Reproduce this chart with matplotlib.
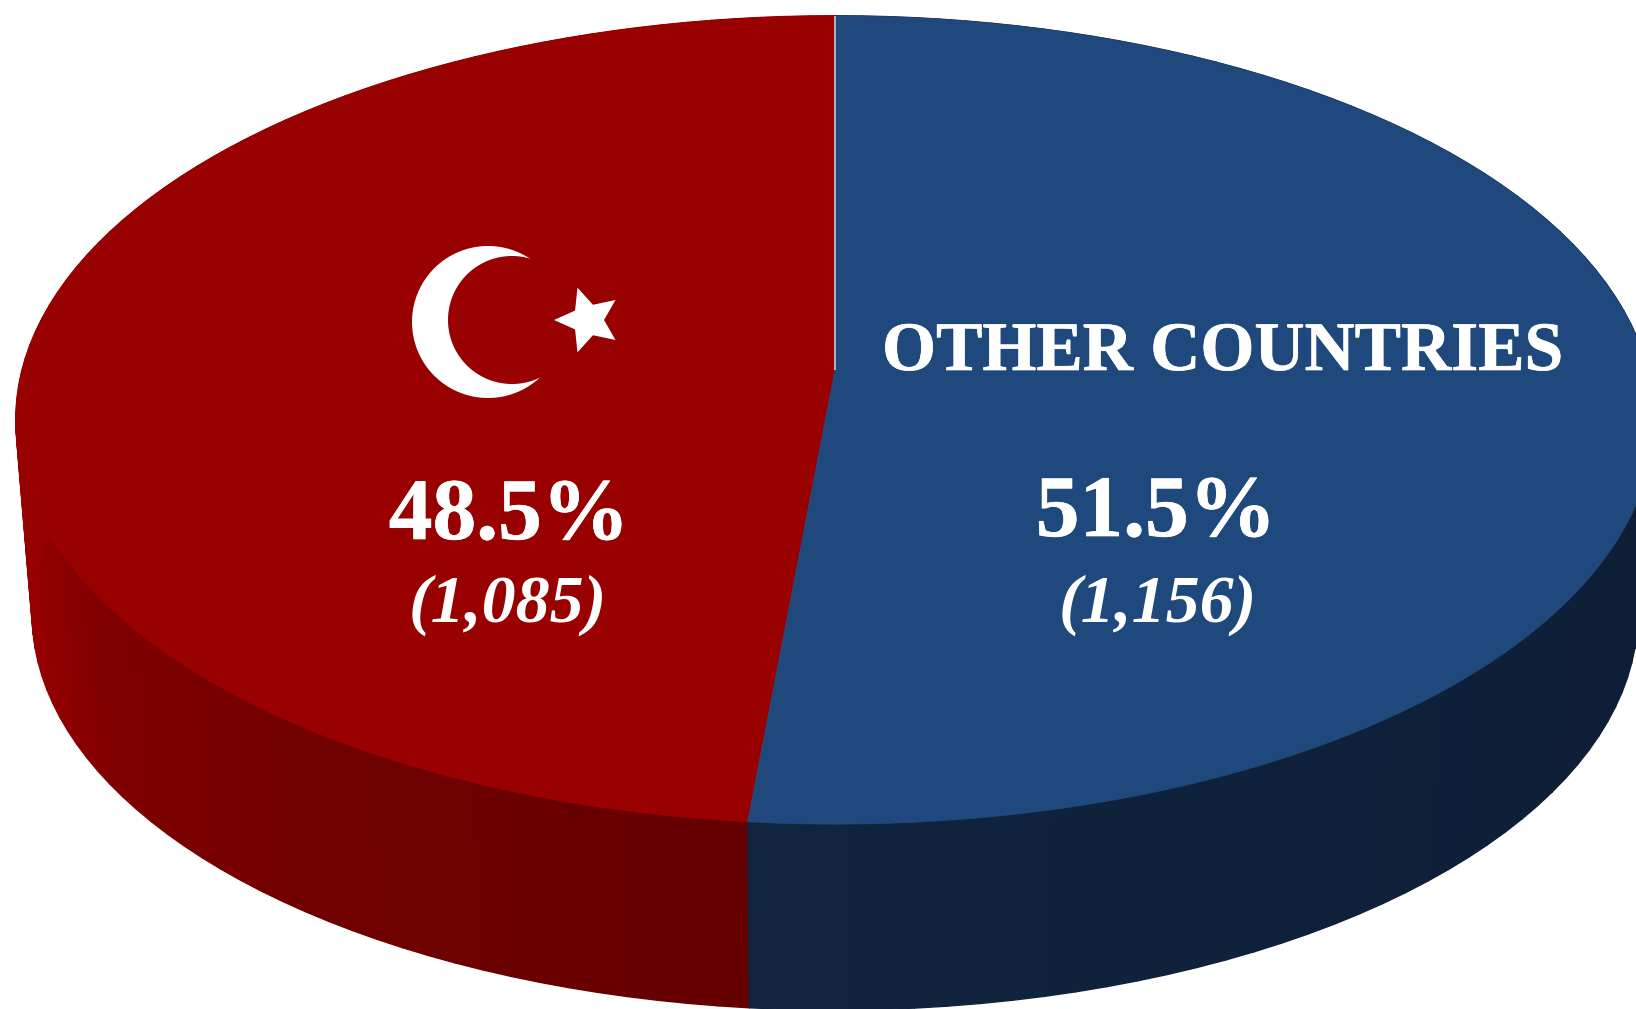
import matplotlib
matplotlib.use('Agg')
import matplotlib.pyplot as plt
from matplotlib.collections import PolyCollection
from matplotlib.colors import to_rgb
from matplotlib.patches import Polygon
import matplotlib.patheffects as pe
import numpy as np

labels = ['Türkiye', 'OTHER COUNTRIES']
shares = [48.5, 51.5]
counts = [1085, 1156]

face_colors = ['#990000', '#1f497d']

# wall shading, rim angle against colour
red_wall_angles = [185, 216, 226, 238, 245, 255]
red_wall_cols = ['#640000', '#720000', '#7a0000', '#800000', '#8c0000', '#970000']
blue_wall_angles = [0, 90, 185]
blue_wall_cols = ['#0d1c34', '#0d1c34', '#10243e']

W, H = 1636, 1009
plt.rcParams['font.family'] = 'Liberation Serif'

# pie geometry in pixels, tilted disc with a little perspective
CX, CY = 835, 370
A, B = 813, 398
K = 0.1236
DEPTH = 195
SHRINK = 0.98


def rim(theta, bottom=False):
    # theta is clockwise from the top of the disc, in degrees
    t = np.radians(theta)
    u, v = np.sin(t), np.cos(t)
    x = A*u/(1+K*v)
    y = -B*v/(1+K*v)
    if bottom:
        return CX+SHRINK*x, CY+DEPTH+SHRINK*y
    return CX+x, CY+y


def shade(theta, angles, cols):
    rgb = np.array([to_rgb(c) for c in cols])
    return np.column_stack([np.interp(theta, angles, rgb[:, i]) for i in range(3)])


def draw_wall(t0, t1, angles, cols):
    # quads between the upper and lower rim, each with its own shade
    th = np.linspace(t0, t1, 90)
    xt, yt = rim(th)
    xb, yb = rim(th, bottom=True)
    quads = [[(xt[i], yt[i]), (xt[i+1], yt[i+1]), (xb[i+1], yb[i+1]), (xb[i], yb[i])]
             for i in range(len(th)-1)]
    c = shade((th[:-1]+th[1:])/2, angles, cols)
    ax.add_collection(PolyCollection(quads, facecolors=c, edgecolors=c, linewidths=1.0))


fig = plt.figure(figsize=(W/100, H/100), dpi=100)
fig.patch.set_facecolor('white')
ax = fig.add_axes([0, 0, 1, 1])
ax.set_xlim(0, W)
ax.set_ylim(H, 0)
ax.axis('off')

split = shares[1]/sum(shares)*360
spans = [(split, 360), (0, split)]  # red slice runs on the left, blue on the right

# side walls first, top faces go over them
draw_wall(spans[0][0], spans[0][1], red_wall_angles, red_wall_cols)
draw_wall(spans[1][0], spans[1][1], blue_wall_angles, blue_wall_cols)

for (t0, t1), c in zip(spans, face_colors):
    th = np.linspace(t0, t1, 300)
    xt, yt = rim(th)
    pts = np.column_stack([np.r_[CX, xt], np.r_[CY, yt]])
    ax.add_patch(Polygon(pts, closed=True, fc=c, ec=c, lw=0.5))

# thin light seam on the upper boundary
x0, y0 = rim(0)
ax.plot([x0, CX], [y0, CY], color='#c9c9d6', lw=1.2, solid_capstyle='butt')

# crescent and star
t = np.linspace(0, 2*np.pi, 200)
ax.fill(488+76*np.cos(t), 322+76*np.sin(t), color='white', lw=0)
ax.fill(512+64*np.cos(t), 320+64*np.sin(t), color=face_colors[0], lw=0)
ang = np.radians(180+np.arange(10)*36)
rad = np.where(np.arange(10) % 2 == 0, 34, 16)
ax.fill(588+rad*np.cos(ang), 320+rad*np.sin(ang), color='white', lw=0)

# slice labels
firm = [pe.withStroke(linewidth=0.5, foreground='white')]
ax.text(509, 539, f'{shares[0]}%', color='white', fontsize=63, fontweight='bold',
        ha='center', va='baseline', path_effects=firm)
ax.text(508, 622, f'({counts[0]:,})', color='white', fontsize=49, fontweight='bold',
        fontstyle='italic', ha='center', va='baseline')
ax.text(1223, 370, labels[1], color='white', fontsize=50, fontweight='bold',
        ha='center', va='baseline', path_effects=firm)
ax.text(1156, 536, f'{shares[1]}%', color='white', fontsize=63, fontweight='bold',
        ha='center', va='baseline', path_effects=firm)
ax.text(1158, 622, f'({counts[1]:,})', color='white', fontsize=49, fontweight='bold',
        fontstyle='italic', ha='center', va='baseline')

fig.savefig('out.png', dpi=100)
